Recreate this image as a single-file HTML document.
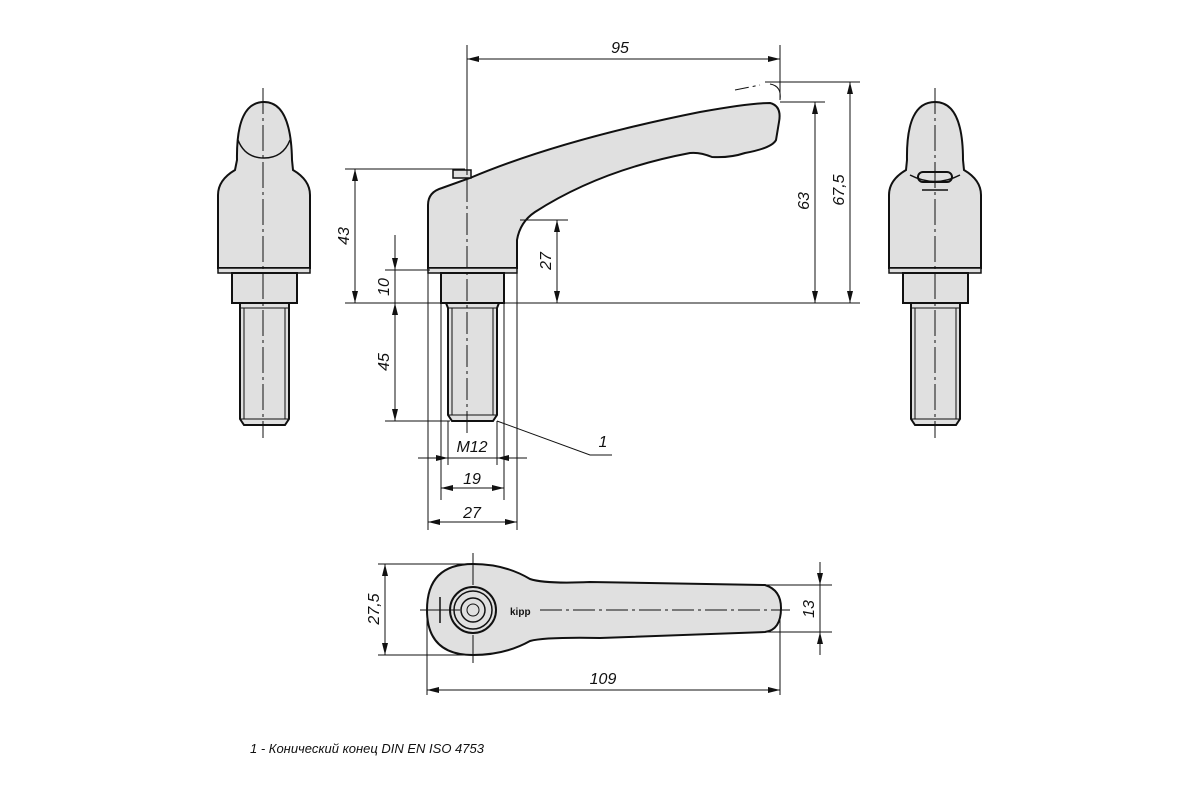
<!DOCTYPE html>
<html><head><meta charset="utf-8"><style>
html,body{margin:0;padding:0;background:#fff;width:1200px;height:800px;overflow:hidden}
svg text{font-family:"Liberation Sans",sans-serif;font-style:italic;font-size:16px;fill:#111}
</style></head><body>
<svg width="1200" height="800" viewBox="0 0 1200 800" xmlns="http://www.w3.org/2000/svg">
<defs>
<marker id="a" viewBox="0 0 12 6" refX="12" refY="3" markerWidth="12" markerHeight="6" orient="auto-start-reverse" markerUnits="userSpaceOnUse"><path d="M0,0 L12,3 L0,6 z" fill="#111"/></marker>
</defs>
<g stroke="#111" fill="none" stroke-width="1">
<path d="M428,268 L428,205 Q428,192 442,188 L470,178 Q560,140 700,112 Q750,103 770,103 Q782,106 779,122 L776,140 Q772,148 745,153 Q730,158 712,157 Q700,152 690,153 Q600,170 535,212 Q520,222 517,240 L517,268 Z" fill="#e0e0e0" stroke-width="2"/>
<rect x="453" y="170" width="18" height="8" fill="#e0e0e0" stroke-width="1.5"/>
<rect x="428" y="268" width="89" height="5" fill="#e0e0e0" stroke-width="1.5"/>
<path d="M735,90 L760,85" stroke-dasharray="14,4,3,4"/>
<path d="M770,84 Q782,86 780,100"/>
<rect x="441" y="273" width="63" height="30" fill="#e0e0e0" stroke-width="2"/>
<path d="M446,303 L499,303 L497,308 L497,415 L493,421 L452,421 L448,415 L448,308 Z" fill="#e0e0e0" stroke-width="2"/>
<path d="M452,308 L452,415 M493,308 L493,415 M448,415 L497,415 M448,308 L497,308"/>
<path d="M467,45 L467,175"/>
<path d="M467,180 L467,437" stroke-dasharray="22,4,3,4"/>
<path d="M345,303 L860,303 M345,169 L465,169 M385,270 L430,270 M385,421 L450,421 M520,220 L568,220 M780,102 L825,102 M765,82 L860,82 M780,45 L780,100"/>
<path d="M428,273 L428,530 M441,303 L441,500 M448,421 L448,465 M497,421 L497,465 M504,303 L504,500 M517,273 L517,530"/>
<path d="M467,59 L780,59" marker-start="url(#a)" marker-end="url(#a)"/>
<path d="M355,169 L355,303" marker-start="url(#a)" marker-end="url(#a)"/>
<path d="M395,235 L395,270" marker-end="url(#a)"/>
<path d="M395,270 L395,303"/>
<path d="M395,303 L395,421" marker-start="url(#a)" marker-end="url(#a)"/>
<path d="M557,220 L557,303" marker-start="url(#a)" marker-end="url(#a)"/>
<path d="M815,102 L815,303" marker-start="url(#a)" marker-end="url(#a)"/>
<path d="M850,82 L850,303" marker-start="url(#a)" marker-end="url(#a)"/>
<path d="M418,458 L448,458" marker-end="url(#a)"/>
<path d="M527,458 L497,458" marker-end="url(#a)"/>
<path d="M448,458 L497,458"/>
<path d="M441,488 L504,488" marker-start="url(#a)" marker-end="url(#a)"/>
<path d="M428,522 L517,522" marker-start="url(#a)" marker-end="url(#a)"/>
<path d="M497,421 L590,455 L612,455"/>

<path d="M237,160 Q236,102 264,102 Q291,102 292,160 L293,170 Q310,180 310,195 L310,268 L218,268 L218,195 Q218,180 235,170 Z" fill="#e0e0e0" stroke-width="2"/>
<path d="M238,140 Q245,158 264,158 Q283,158 290,140" stroke-width="1.5"/>
<rect x="218" y="268" width="92" height="5" fill="#e0e0e0" stroke-width="1.5"/>
<rect x="232" y="273" width="65" height="30" fill="#e0e0e0" stroke-width="2"/>
<path d="M240,303 L289,303 L289,419 L285,425 L244,425 L240,419 Z" fill="#e0e0e0" stroke-width="2"/>
<path d="M244,308 L244,419 M285,308 L285,419 M240,419 L289,419 M240,308 L289,308"/>
<path d="M263,88 L263,438" stroke-dasharray="26,4,3,4"/>

<path d="M907,160 Q906,102 935,102 Q963,102 963,160 L964,170 Q981,180 981,195 L981,268 L889,268 L889,195 Q889,180 906,170 Z" fill="#e0e0e0" stroke-width="2"/>
<rect x="918" y="172" width="34" height="10" rx="5" fill="#e0e0e0" stroke-width="2"/>
<path d="M910,175 Q935,188 960,175 M922,190 L948,190" stroke-width="1.5"/>
<rect x="889" y="268" width="92" height="5" fill="#e0e0e0" stroke-width="1.5"/>
<rect x="903" y="273" width="65" height="30" fill="#e0e0e0" stroke-width="2"/>
<path d="M911,303 L960,303 L960,419 L956,425 L915,425 L911,419 Z" fill="#e0e0e0" stroke-width="2"/>
<path d="M915,308 L915,419 M956,308 L956,419 M911,419 L960,419 M911,308 L960,308"/>
<path d="M935,88 L935,438" stroke-dasharray="26,4,3,4"/>

<path d="M473,564 Q505,564 530,579 Q545,584 590,582 L765,585 Q781,590 781,608 Q781,630 765,632 L600,638 Q545,637 530,641 Q505,655 473,655 Q427,655 427,610 Q427,564 473,564 Z" fill="#e0e0e0" stroke-width="2"/>
<circle cx="473" cy="610" r="23" stroke-width="2"/>
<circle cx="473" cy="610" r="19" stroke-width="1.5"/>
<circle cx="473" cy="610" r="12" stroke-width="1.5"/>
<circle cx="473" cy="610" r="6"/>
<path d="M440,597 L440,623" stroke-width="1.5"/>
<path d="M420,610 L460,610"/>
<path d="M540,610 L790,610" stroke-dasharray="22,4,3,4"/>
<path d="M473,553 L473,585 M473,635 L473,663"/>
<path d="M378,564 L473,564 M378,655 L473,655 M427,613 L427,695 M780,615 L780,695 M765,585 L832,585 M765,632 L832,632"/>
<path d="M385,564 L385,655" marker-start="url(#a)" marker-end="url(#a)"/>
<path d="M427,690 L780,690" marker-start="url(#a)" marker-end="url(#a)"/>
<path d="M820,562 L820,585" marker-end="url(#a)"/>
<path d="M820,655 L820,632" marker-end="url(#a)"/>
<path d="M820,585 L820,632"/>
</g>
<text x="510" y="615" style="font-size:10px;font-weight:bold;font-style:normal">kipp</text>

<text x="620" y="53" text-anchor="middle">95</text>
<text x="603" y="447" text-anchor="middle">1</text>
<text x="472" y="452" text-anchor="middle">M12</text>
<text x="472" y="484" text-anchor="middle">19</text>
<text x="472" y="518" text-anchor="middle">27</text>
<text x="603" y="684" text-anchor="middle">109</text>
<text transform="translate(349,236) rotate(-90)" text-anchor="middle">43</text>
<text transform="translate(389,287) rotate(-90)" text-anchor="middle">10</text>
<text transform="translate(389,362) rotate(-90)" text-anchor="middle">45</text>
<text transform="translate(551,261) rotate(-90)" text-anchor="middle">27</text>
<text transform="translate(809,201) rotate(-90)" text-anchor="middle">63</text>
<text transform="translate(844,190) rotate(-90)" text-anchor="middle">67,5</text>
<text transform="translate(379,609) rotate(-90)" text-anchor="middle">27,5</text>
<text transform="translate(814,609) rotate(-90)" text-anchor="middle">13</text>
<text x="250" y="753" style="font-size:13px">1 - Конический конец DIN EN ISO 4753</text>
</svg>
</body></html>
